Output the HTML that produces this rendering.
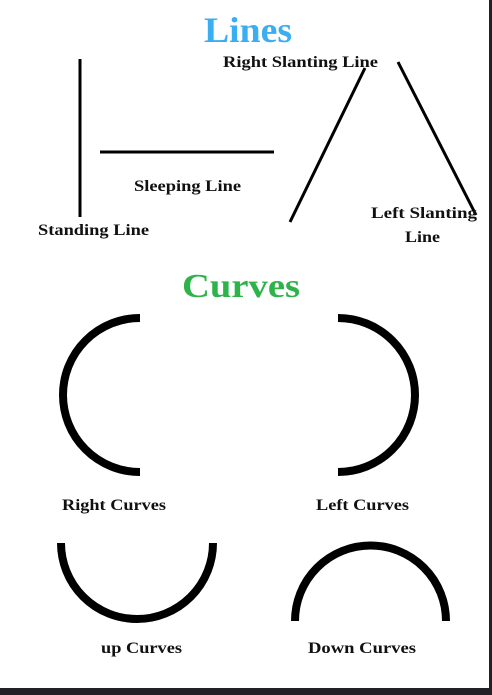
<!DOCTYPE html>
<html><head><meta charset="utf-8"><style>
html,body{margin:0;padding:0;background:#fff}
svg{display:block}
text{font-family:"Liberation Serif",serif;font-weight:bold}
</style></head><body>
<svg width="492" height="695" viewBox="0 0 492 695">
<rect x="0" y="0" width="492" height="695" fill="#fff"/>
<rect x="489" y="0" width="3" height="695" fill="#222226"/>
<rect x="0" y="688" width="492" height="7" fill="#222226"/>
<text x="248" y="42" text-anchor="middle" font-size="36" fill="#3aaef0" textLength="88" lengthAdjust="spacingAndGlyphs">Lines</text>
<line x1="80" y1="59" x2="80" y2="217" stroke="#000" stroke-width="3"/>
<line x1="100" y1="152" x2="274" y2="152" stroke="#000" stroke-width="3"/>
<line x1="365" y1="68" x2="290" y2="222" stroke="#000" stroke-width="3"/>
<line x1="398" y1="62" x2="476" y2="215" stroke="#000" stroke-width="3"/>
<text x="223" y="67" font-size="16" fill="#111" textLength="155" lengthAdjust="spacingAndGlyphs">Right Slanting Line</text>
<text x="134" y="191" font-size="16" fill="#111" textLength="107" lengthAdjust="spacingAndGlyphs">Sleeping Line</text>
<text x="38" y="235" font-size="16" fill="#111" textLength="111" lengthAdjust="spacingAndGlyphs">Standing Line</text>
<text x="371" y="218" font-size="16" fill="#111" textLength="106" lengthAdjust="spacingAndGlyphs">Left Slanting</text>
<text x="405" y="242" font-size="16" fill="#111" textLength="35" lengthAdjust="spacingAndGlyphs">Line</text>
<text x="182" y="297" font-size="34" fill="#2db34a" textLength="118" lengthAdjust="spacingAndGlyphs">Curves</text>
<path d="M140 318 A77 77 0 0 0 140 472" fill="none" stroke="#000" stroke-width="8"/>
<path d="M338 318 A77 77 0 0 1 338 472" fill="none" stroke="#000" stroke-width="8"/>
<path d="M61 543 A76 76 0 0 0 213 543" fill="none" stroke="#000" stroke-width="8"/>
<path d="M295 621 A75.5 75.5 0 0 1 446 621" fill="none" stroke="#000" stroke-width="8"/>
<text x="62" y="510" font-size="16" fill="#111" textLength="104" lengthAdjust="spacingAndGlyphs">Right Curves</text>
<text x="316" y="510" font-size="16" fill="#111" textLength="93" lengthAdjust="spacingAndGlyphs">Left Curves</text>
<text x="101" y="653" font-size="16" fill="#111" textLength="81" lengthAdjust="spacingAndGlyphs">up Curves</text>
<text x="308" y="653" font-size="16" fill="#111" textLength="108" lengthAdjust="spacingAndGlyphs">Down Curves</text>
</svg>
</body></html>
